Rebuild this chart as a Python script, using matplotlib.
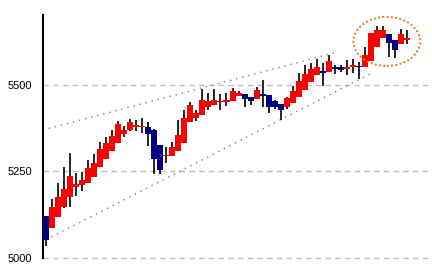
import matplotlib
matplotlib.use("Agg")
import matplotlib.pyplot as plt
from matplotlib.patches import Ellipse
import numpy as np

# OHLC values (one entry per session)
opens = [5122, 5088, 5118, 5148, 5175, 5206, 5210, 5217, 5234, 5262,
         5285, 5309, 5332, 5357, 5369, 5380, 5379, 5378, 5369, 5326,
         5293, 5294, 5309, 5332, 5392, 5405, 5412, 5434, 5441, 5449,
         5450, 5453, 5468, 5472, 5464, 5459, 5473, 5469, 5453, 5443,
         5436, 5447, 5463, 5484, 5508, 5528, 5538, 5536, 5551, 5550,
         5545, 5549, 5553, 5551, 5567, 5608, 5633, 5645, 5629, 5616,
         5630]
highs = [5122, 5170, 5216, 5262, 5303, 5244, 5248, 5284, 5300, 5335,
         5349, 5369, 5395, 5380, 5400, 5399, 5403, 5393, 5372, 5326,
         5321, 5335, 5397, 5426, 5450, 5426, 5486, 5476, 5486, 5474,
         5476, 5489, 5480, 5474, 5464, 5493, 5512, 5469, 5455, 5445,
         5465, 5495, 5533, 5555, 5562, 5572, 5561, 5584, 5555, 5555,
         5570, 5572, 5565, 5608, 5647, 5668, 5668, 5645, 5629, 5661,
         5656]
lows = [5035, 5088, 5118, 5144, 5147, 5179, 5194, 5217, 5234, 5262,
        5285, 5309, 5332, 5350, 5366, 5367, 5361, 5323, 5242, 5242,
        5273, 5294, 5309, 5332, 5392, 5395, 5412, 5428, 5441, 5426,
        5438, 5453, 5466, 5434, 5440, 5459, 5436, 5417, 5430, 5397,
        5430, 5447, 5463, 5484, 5508, 5528, 5496, 5536, 5529, 5535,
        5527, 5532, 5517, 5551, 5567, 5608, 5633, 5579, 5575, 5616,
        5616]
closes = [5053, 5147, 5175, 5199, 5237, 5214, 5225, 5259, 5274, 5313,
          5332, 5351, 5386, 5369, 5393, 5381, 5380, 5359, 5285, 5254,
          5297, 5321, 5354, 5405, 5441, 5418, 5455, 5453, 5455, 5453,
          5455, 5481, 5476, 5457, 5453, 5484, 5467, 5436, 5436, 5426,
          5460, 5481, 5510, 5530, 5544, 5549, 5535, 5567, 5544, 5543,
          5549, 5555, 5549, 5584, 5647, 5658, 5658, 5618, 5599, 5645,
          5632]

# trend channel (session index, price) and the highlighted zone
upper_trend_x = [-0.5, 48.3]
upper_trend_y = [5369, 5593]
lower_trend_x = [0, 53.8]
lower_trend_y = [5053, 5530]
zone_center = (56.6, 5624)
zone_size = (11.1, 141)

y_ticks = [5000, 5250, 5500]

UP = "#ff0000"
DOWN = "#000080"

fig = plt.figure(figsize=(4.32, 2.72), dpi=100)
ax = fig.add_axes([0.0988, 0.0504, 0.9012, 0.8945])

o = np.array(opens)
h = np.array(highs)
l = np.array(lows)
c = np.array(closes)
x = np.arange(len(o))

# wicks behind the bodies
ax.vlines(x, l, h, color="black", linewidth=1.2, zorder=2)

bottom = np.minimum(o, c)
height = np.maximum(np.abs(c - o), 4)
bottom = np.where(np.abs(c - o) < 4, (o + c) / 2 - 2, bottom)
colors = [UP if cc >= oo else DOWN for oo, cc in zip(o, c)]
ax.bar(x, height, bottom=bottom, width=1.0, color=colors,
       linewidth=0, antialiased=False, zorder=3)

ax.plot(upper_trend_x, upper_trend_y, color="#808080", linewidth=1.0,
        linestyle=(0, (1, 3.5)), zorder=1)
ax.plot(lower_trend_x, lower_trend_y, color="#808080", linewidth=1.0,
        linestyle=(0, (1, 3.5)), zorder=1)

ax.add_patch(Ellipse(zone_center, zone_size[0], zone_size[1], fill=False,
                     edgecolor="#f07818", linewidth=1.4,
                     linestyle=(0, (1, 1.2)), zorder=4))

for yv in y_ticks:
    ax.axhline(yv, color="#c0c0c0", linewidth=1.0, linestyle=(0, (4, 3)),
               zorder=0, clip_on=False)

ax.set_xlim(-0.5, 64.1)
ax.set_ylim(5000, 5700)
ax.set_yticks(y_ticks)
ax.set_yticklabels([str(v) for v in y_ticks], fontfamily="Liberation Sans",
                   fontsize=8)
ax.tick_params(axis="y", length=0, pad=7.5)
ax.set_xticks([])
for side in ("top", "right", "bottom"):
    ax.spines[side].set_visible(False)
ax.spines["left"].set_linewidth(1.5)
ax.spines["left"].set_color("black")

fig.savefig("out.png", dpi=100)
